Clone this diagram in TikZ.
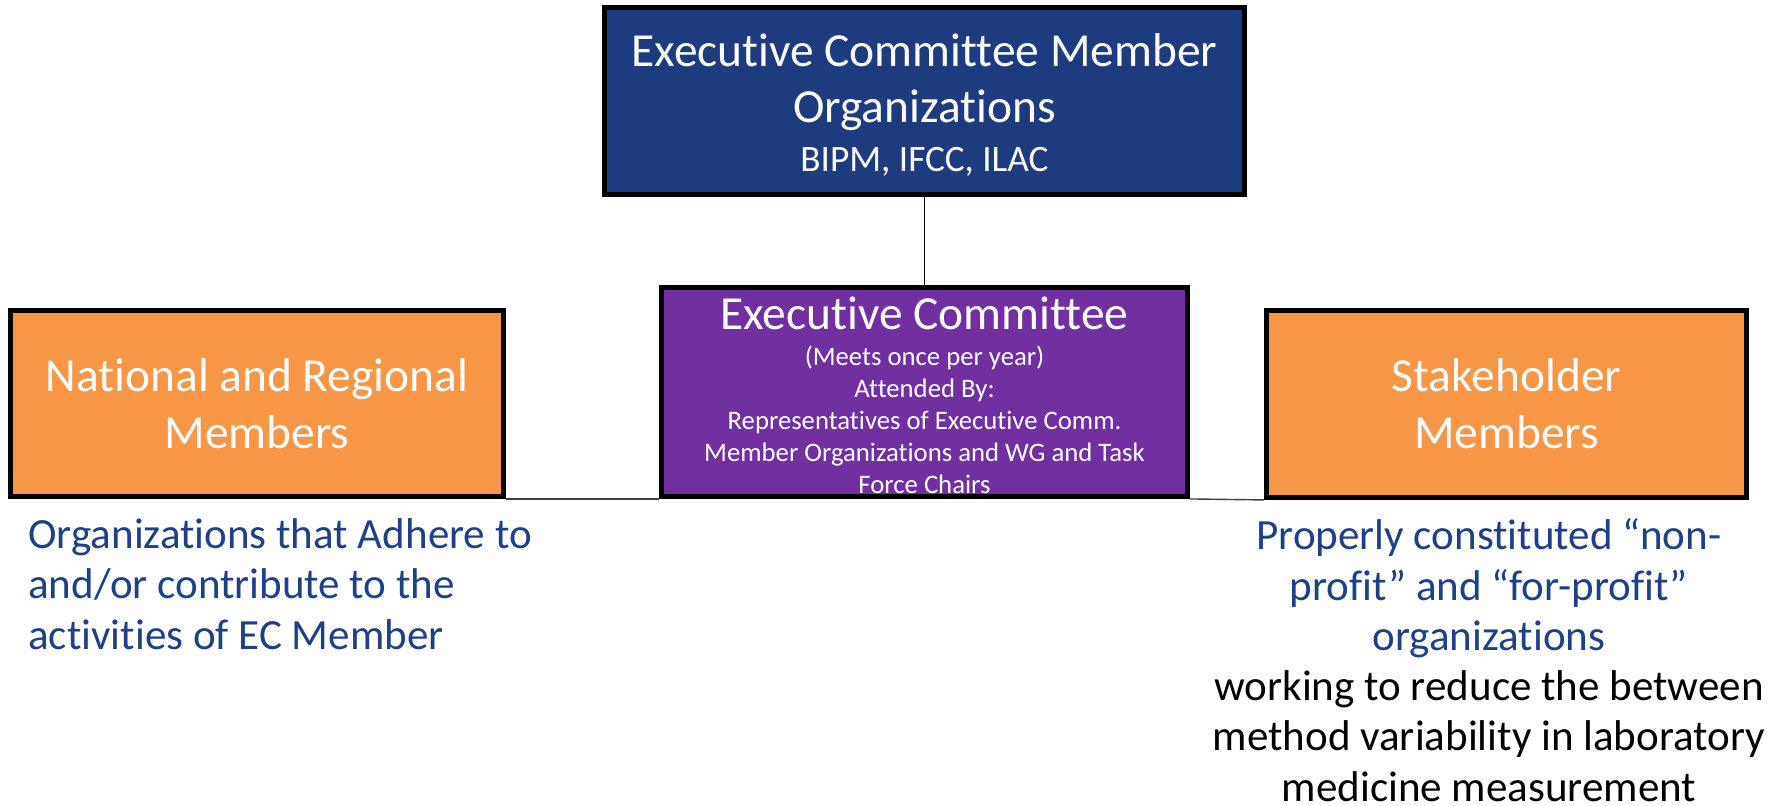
\documentclass[tikz,border=0pt]{standalone}
\usepackage{fontspec}
\setmainfont{Carlito}[Ligatures=NoCommon]
\usetikzlibrary{calc}
\definecolor{bleuEC}{HTML}{1D3C80}
\definecolor{violetEC}{HTML}{7030A0}
\definecolor{orangeEC}{HTML}{F79646}
\definecolor{bleuTxt}{HTML}{1F3F88}

\tikzset{
	boite/.style={draw=black,line width=2.8pt,text=white,align=center,inner sep=0pt},
	grand/.style={font=\fontsize{27}{32.4}\selectfont},
	petit/.style={font=\fontsize{15.2}{18.2}\selectfont},
	legende/.style={font=\fontsize{24.5}{28.6}\selectfont,inner sep=0pt},
	lien/.style={line width=0.8pt}
}

\begin{document}
\begin{tikzpicture}
	\useasboundingbox (0,0) rectangle (35.5,16.12);
			% Boîtes
\node [boite,grand,fill=bleuEC,minimum width=12.8cm,minimum height=3.74cm] (ecmo) at (18.49,14.1) {\rule{0pt}{24pt}Executive Committee Member\\Organizations\\[-4.5pt]{\fontsize{21.2}{24}\selectfont BIPM, IFCC, ILAC\rule[-3.5pt]{0pt}{1pt}}};
\node [boite,petit,fill=violetEC,minimum width=10.52cm,minimum height=4.18cm] (ec) at (18.49,8.28) {{\fontsize{27}{32.4}\selectfont\rule{0pt}{22pt}Executive Committee}\\[2.5pt](Meets once per year)\\Attended By:\\Representatives of Executive Comm.\\Member Organizations and WG and Task\\Force Chairs};
\node [boite,grand,fill=orangeEC,minimum width=9.86cm,minimum height=3.72cm] (nrm) at (5.14,8.05) {National and Regional\\Members};
\node [boite,grand,fill=orangeEC,minimum width=9.6cm,minimum height=3.74cm] (stm) at (30.13,8.04) {Stakeholder\\Members};
			% Légendes
\node [legende,text=bleuTxt,align=left,anchor=north west] (nrmtxt) at (0.56,5.75) {Organizations that Adhere to\\and/or contribute to the\\activities of EC Member};
\node [legende,align=center,anchor=north] (stmtxt) at (29.78,5.75) {\textcolor{bleuTxt}{Properly constituted “non-}\\\textcolor{bleuTxt}{profit” and “for-profit”}\\\textcolor{bleuTxt}{organizations}\\working to reduce the between\\method variability in laboratory\\medicine measurement};
			% Liens
\draw [lien] (ecmo.south) -- (ec.north);
\draw [lien,black!75] (nrm.south east) -- (ec.south west);
\draw [lien,black!75] (ec.south east) -- (stm.south west);
\end{tikzpicture}
\end{document}
